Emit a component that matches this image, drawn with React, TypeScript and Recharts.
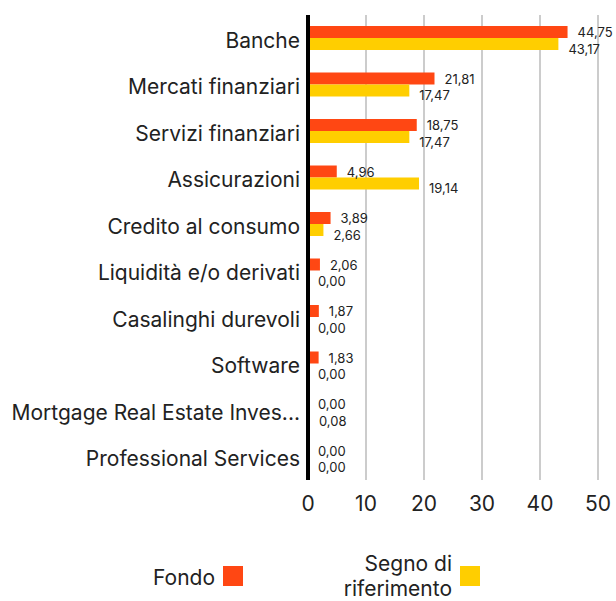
import React from "react";
import { BarChart, Bar, XAxis, YAxis, CartesianGrid, LabelList } from "recharts";

const categories = [
  "Banche",
  "Mercati finanziari",
  "Servizi finanziari",
  "Assicurazioni",
  "Credito al consumo",
  "Liquidità e/o derivati",
  "Casalinghi durevoli",
  "Software",
  "Mortgage Real Estate Investment Trusts (REITs)",
  "Professional Services",
];
const fondo = [44.75, 21.81, 18.75, 4.96, 3.89, 2.06, 1.87, 1.83, 0.0, 0.0];
const riferimento = [43.17, 17.47, 17.47, 19.14, 2.66, 0.0, 0.0, 0.0, 0.08, 0.0];
const xTicks = [0, 10, 20, 30, 40, 50];

const data = categories.map((name, i) => ({ name, fondo: fondo[i], riferimento: riferimento[i] }));

const FONT = "Inter, 'Noto Sans', sans-serif";
const ORANGE = "#FF4713";
const YELLOW = "#FFCE00";
const TEXT = "#222222";

const fmt = (v: number) => v.toFixed(2).replace(".", ",");
const truncate = (s: string) => (s.length > 26 ? s.slice(0, 26) + "..." : s);

const makeLabel = (shift: number) => (props: any) => {
  const { x, y, width, height, value } = props;
  const v = Number(value);
  const w = v === 0 ? 0 : Number(width);
  return (
    <text
      x={Number(x) + w + 10}
      y={Number(y) + Number(height) / 2 + shift}
      dominantBaseline="central"
      fontSize={13}
      fontFamily={FONT}
      fill={TEXT}
    >
      {fmt(v)}
    </text>
  );
};

const YTick = (props: any) => {
  const { x, y, payload } = props;
  return (
    <text
      x={Number(x)}
      y={Number(y) + 2}
      textAnchor="end"
      dominantBaseline="central"
      fontSize={21}
      fontFamily={FONT}
      fill={TEXT}
    >
      {truncate(String(payload.value))}
    </text>
  );
};

export default function App() {
  return (
    <div style={{ position: "relative", width: 616, height: 601, fontFamily: FONT, overflow: "hidden" }}>
      <style>{"html,body{margin:0;padding:0;overflow:hidden;}"}</style>
      <BarChart
        width={616}
        height={601}
        layout="vertical"
        data={data}
        margin={{ top: 15, right: 18, bottom: 91, left: 0 }}
        barSize={12}
        barGap={0}
      >
        <CartesianGrid horizontal={false} stroke="#cccccc" strokeWidth={2} />
        <XAxis
          type="number"
          domain={[0, 50]}
          ticks={xTicks}
          axisLine={false}
          tickLine={false}
          tickSize={0}
          tickMargin={16}
          height={30}
          tick={{ fontSize: 21, fill: TEXT, fontFamily: FONT }}
        />
        <YAxis
          type="category"
          dataKey="name"
          width={308}
          axisLine={{ stroke: "#000", strokeWidth: 4 }}
          tickLine={false}
          tickSize={0}
          tickMargin={8}
          tick={<YTick />}
          interval={0}
        />
        <Bar dataKey="fondo" fill={ORANGE} isAnimationActive={false} minPointSize={1}>
          <LabelList dataKey="fondo" content={makeLabel(0)} />
        </Bar>
        <Bar dataKey="riferimento" fill={YELLOW} isAnimationActive={false} minPointSize={1}>
          <LabelList dataKey="riferimento" content={makeLabel(4.5)} />
        </Bar>
      </BarChart>
      <div style={{ position: "absolute", left: 0, top: 567, width: 215, textAlign: "right", fontSize: 21, color: TEXT, lineHeight: "21px" }}>
        Fondo
      </div>
      <div style={{ position: "absolute", left: 223, top: 566, width: 20, height: 20, background: ORANGE }} />
      <div style={{ position: "absolute", left: 252, top: 551, width: 200, textAlign: "right", fontSize: 21, color: TEXT, lineHeight: "25px" }}>
        Segno di<br />riferimento
      </div>
      <div style={{ position: "absolute", left: 460, top: 566, width: 20, height: 20, background: YELLOW }} />
    </div>
  );
}
